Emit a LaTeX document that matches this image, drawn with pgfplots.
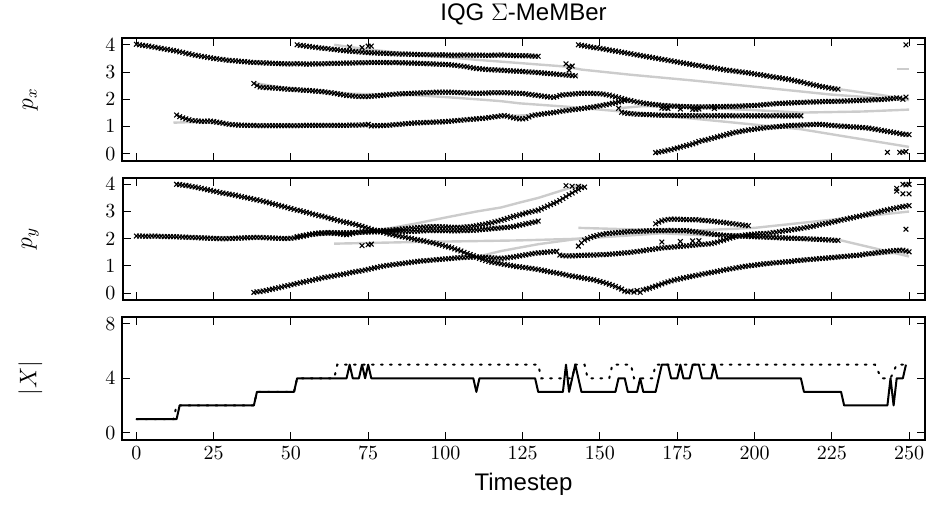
\documentclass[border=0pt]{standalone}
\usepackage{pgfplots}
\pgfplotsset{compat=1.18}
\usepackage{fontspec}
\newfontfamily\hel{Liberation Sans}
\definecolor{gt}{gray}{0.80}
\pgfplotsset{
  panel/.style={
    scale only axis, width=401pt, height=61.25pt,
    xmin=-4.5, xmax=255,
    xtick={0,25,...,250},
    tick align=inside, xtick pos=both, ytick pos=both,
    major tick length=4pt,
    every tick/.style={black, line width=0.5pt},
    axis line style={line width=1pt},
    tick label style={font=\fontsize{10}{12}\selectfont},
    ylabel style={font=\fontsize{11.5}{13}\selectfont, at={(axis description cs:-0.115,0.5)}, anchor=center},
  },
  est/.style={only marks, mark=x, mark size=1.65pt, black, line width=0.55pt},
  tru/.style={gt, line width=1.2pt, no marks},
}
\begin{document}
\begin{tikzpicture}
\path[use as bounding box] (-61.25pt,19pt) rectangle (403.75pt,-236.5pt);
% ---------------- p_x ----------------
\begin{axis}[panel, at={(0,0)}, anchor=north west,
  ymin=-0.25, ymax=4.25, ytick={0,1,2,3,4}, xticklabels={},
  ylabel={$p_x$},
  title={\hel\fontsize{12}{14}\selectfont IQG $\Sigma$-MeMBer},
  title style={yshift=-3pt}]
% ground truth
\addplot[tru] coordinates {(0,4.0)(10,3.83)(20,3.6)(30,3.43)(40,3.34)(60,3.3)(80,3.34)(100,3.28)(110,3.15)(120,3.06)(130,2.98)(143,2.86)};
\addplot[tru] coordinates {(52,4.0)(60,3.88)(70,3.76)(80,3.69)(100,3.63)(130,3.58)};
\addplot[tru] coordinates {(64,4.0)(75,3.83)(90,3.65)(100,3.55)(110,3.45)(124,3.33)(139,3.2)(144,3.09)(160,2.9)(180,2.69)(200,2.46)(225,2.17)(250,1.97)};
\addplot[tru] coordinates {(143,4.0)(160,3.67)(180,3.27)(200,2.93)(215,2.64)(228,2.36)(240,2.17)(250,2.0)};
\addplot[tru] coordinates {(38,2.6)(50,2.38)(60,2.3)(70,2.2)(80,2.18)(90,2.15)(100,2.08)(110,2.0)(118,1.93)(124,1.85)(140,1.72)(155,1.57)(170,1.4)(190,1.18)(215,0.9)(230,0.62)(250,0.25)};
\addplot[tru] coordinates {(12,1.14)(20,1.17)(30,1.08)(40,1.03)(80,1.04)(100,1.18)(118,1.38)(128,1.42)(140,1.6)(158,1.95)(170,1.8)(190,1.73)(210,1.85)(250,2.02)};
\addplot[tru] coordinates {(156,1.67)(164,1.75)(180,1.7)(200,1.6)(215,1.51)(235,1.55)(250,1.62)};
\addplot[tru] coordinates {(168,0.02)(180,0.36)(200,0.9)(220,1.08)(235,0.95)(250,0.7)};
\addplot[tru] coordinates {(246,3.12)(250,3.12)};
% estimates
\addplot[est] coordinates {(0,4.02)(1,4.00)(2,3.98)(3,3.97)(4,3.95)(5,3.93)(6,3.91)(7,3.89)(8,3.87)(9,3.85)(10,3.83)(11,3.81)(12,3.79)(13,3.77)(14,3.74)(15,3.72)(16,3.69)(17,3.67)(18,3.64)(19,3.62)(20,3.60)(21,3.58)(22,3.56)(23,3.54)(24,3.52)(25,3.50)(26,3.49)(27,3.47)(28,3.46)(29,3.44)(30,3.43)(31,3.42)(32,3.41)(33,3.40)(34,3.39)(35,3.38)(36,3.37)(37,3.36)(38,3.35)(39,3.35)(40,3.34)(41,3.34)(42,3.33)(43,3.33)(44,3.32)(45,3.32)(46,3.31)(47,3.31)(48,3.30)(49,3.30)(50,3.30)(51,3.30)(52,3.31)(53,3.30)(54,3.30)(55,3.29)(56,3.29)(57,3.30)(58,3.30)(59,3.30)(60,3.30)(61,3.31)(62,3.31)(63,3.32)(64,3.32)(65,3.32)(66,3.32)(67,3.33)(68,3.33)(69,3.33)(70,3.33)(71,3.34)(72,3.34)(73,3.34)(74,3.34)(75,3.35)(76,3.35)(77,3.35)(78,3.35)(79,3.35)(80,3.35)(81,3.35)(82,3.34)(83,3.35)(84,3.35)(85,3.34)(86,3.34)(87,3.34)(88,3.33)(89,3.33)(90,3.33)(91,3.32)(92,3.32)(93,3.31)(94,3.31)(95,3.30)(96,3.30)(97,3.29)(98,3.29)(99,3.28)(100,3.28)(101,3.27)(102,3.26)(103,3.25)(104,3.24)(105,3.22)(106,3.21)(107,3.19)(108,3.17)(109,3.15)(110,3.13)(111,3.12)(112,3.11)(113,3.10)(114,3.09)(115,3.08)(116,3.08)(117,3.07)(118,3.07)(119,3.06)(120,3.05)(121,3.04)(122,3.04)(123,3.03)(124,3.03)(125,3.02)(126,3.01)(127,3.00)(128,3.00)(129,2.99)(130,2.98)(131,2.97)(132,2.96)(133,2.95)(134,2.94)(135,2.93)(136,2.92)(137,2.91)(138,2.90)(139,2.89)(140,2.88)(141,2.87)(142,2.86)};
\addplot[est] coordinates {(52,4.00)(53,3.98)(54,3.97)(55,3.95)(56,3.94)(57,3.92)(58,3.91)(59,3.89)(60,3.88)(61,3.87)(62,3.86)(63,3.84)(64,3.83)(65,3.82)(66,3.80)(67,3.79)(68,3.78)(69,3.77)(70,3.76)(71,3.75)(72,3.74)(73,3.73)(74,3.72)(75,3.71)(76,3.71)(77,3.70)(78,3.70)(79,3.69)(80,3.69)(81,3.68)(82,3.68)(83,3.67)(84,3.67)(85,3.66)(86,3.66)(87,3.66)(88,3.66)(89,3.65)(90,3.65)(91,3.64)(92,3.64)(93,3.64)(94,3.64)(95,3.63)(96,3.63)(97,3.63)(98,3.63)(99,3.63)(100,3.63)(101,3.62)(102,3.62)(103,3.62)(104,3.62)(105,3.62)(106,3.63)(107,3.62)(108,3.62)(109,3.62)(110,3.62)(111,3.62)(112,3.62)(113,3.61)(114,3.61)(115,3.62)(116,3.62)(117,3.62)(118,3.63)(119,3.62)(120,3.62)(121,3.61)(122,3.61)(123,3.60)(124,3.60)(125,3.60)(126,3.60)(127,3.59)(128,3.59)(129,3.58)(130,3.58)};
\addplot[est] coordinates {(143,4.00)(144,3.98)(145,3.96)(146,3.94)(147,3.92)(148,3.90)(149,3.89)(150,3.87)(151,3.85)(152,3.83)(153,3.81)(154,3.79)(155,3.77)(156,3.75)(157,3.73)(158,3.71)(159,3.69)(160,3.67)(161,3.65)(162,3.63)(163,3.61)(164,3.59)(165,3.57)(166,3.55)(167,3.53)(168,3.51)(169,3.49)(170,3.47)(171,3.45)(172,3.43)(173,3.41)(174,3.39)(175,3.37)(176,3.35)(177,3.33)(178,3.31)(179,3.29)(180,3.27)(181,3.25)(182,3.24)(183,3.22)(184,3.20)(185,3.18)(186,3.17)(187,3.15)(188,3.13)(189,3.11)(190,3.09)(191,3.07)(192,3.06)(193,3.04)(194,3.03)(195,3.01)(196,3.00)(197,2.98)(198,2.97)(199,2.95)(200,2.93)(201,2.91)(202,2.90)(203,2.88)(204,2.86)(205,2.84)(206,2.82)(207,2.80)(208,2.79)(209,2.77)(210,2.75)(211,2.73)(212,2.71)(213,2.68)(214,2.66)(215,2.64)(216,2.61)(217,2.58)(218,2.56)(219,2.53)(220,2.51)(221,2.48)(222,2.46)(223,2.44)(224,2.42)(225,2.40)(226,2.38)(227,2.37)};
\addplot[est] coordinates {(38,2.58)(39,2.50)(40,2.45)(41,2.44)(42,2.43)(43,2.42)(44,2.42)(45,2.41)(46,2.40)(47,2.39)(48,2.38)(49,2.37)(50,2.36)(51,2.36)(52,2.35)(53,2.34)(54,2.33)(55,2.33)(56,2.32)(57,2.31)(58,2.30)(59,2.29)(60,2.28)(61,2.27)(62,2.25)(63,2.24)(64,2.22)(65,2.20)(66,2.18)(67,2.16)(68,2.14)(69,2.13)(70,2.12)(71,2.11)(72,2.10)(73,2.10)(74,2.10)(75,2.10)(76,2.11)(77,2.12)(78,2.13)(79,2.14)(80,2.15)(81,2.16)(82,2.17)(83,2.18)(84,2.19)(85,2.20)(86,2.20)(87,2.21)(88,2.21)(89,2.22)(90,2.22)(91,2.23)(92,2.23)(93,2.24)(94,2.24)(95,2.25)(96,2.25)(97,2.26)(98,2.26)(99,2.26)(100,2.26)(101,2.26)(102,2.26)(103,2.25)(104,2.25)(105,2.24)(106,2.24)(107,2.23)(108,2.23)(109,2.22)(110,2.22)(111,2.22)(112,2.22)(113,2.23)(114,2.23)(115,2.24)(116,2.24)(117,2.24)(118,2.24)(119,2.24)(120,2.24)(121,2.23)(122,2.23)(123,2.22)(124,2.22)(125,2.21)(126,2.20)(127,2.18)(128,2.17)(129,2.15)(130,2.14)(131,2.12)(132,2.11)(133,2.09)(134,2.08)(135,2.07)(136,2.10)(137,2.14)(138,2.16)(139,2.17)(140,2.18)(141,2.19)(142,2.20)(143,2.21)(144,2.22)(145,2.22)(146,2.22)(147,2.22)(148,2.21)(149,2.21)(150,2.20)(151,2.19)(152,2.17)(153,2.15)(154,2.12)(155,2.09)(156,2.06)(157,2.03)(158,2.00)(159,1.97)(160,1.95)(161,1.92)(162,1.90)(163,1.88)(164,1.86)(165,1.84)(166,1.83)(167,1.81)(168,1.80)(169,1.79)(170,1.78)(171,1.77)(172,1.76)(173,1.75)(174,1.75)(175,1.74)(176,1.74)(177,1.73)(178,1.73)(179,1.72)(180,1.72)(181,1.72)(182,1.72)(183,1.72)(184,1.72)(185,1.72)(186,1.73)(187,1.73)(188,1.73)(189,1.73)(190,1.73)(191,1.74)(192,1.74)(193,1.74)(194,1.74)(195,1.75)(196,1.75)(197,1.76)(198,1.76)(199,1.77)(200,1.77)(201,1.78)(202,1.79)(203,1.80)(204,1.81)(205,1.82)(206,1.83)(207,1.84)(208,1.85)(209,1.85)(210,1.86)(211,1.86)(212,1.87)(213,1.87)(214,1.88)(215,1.88)(216,1.89)(217,1.89)(218,1.90)(219,1.90)(220,1.90)(221,1.91)(222,1.91)(223,1.92)(224,1.92)(225,1.92)(226,1.92)(227,1.93)(228,1.93)(229,1.93)(230,1.94)(231,1.94)(232,1.95)(233,1.95)(234,1.96)(235,1.96)(236,1.97)(237,1.97)(238,1.98)(239,1.98)(240,1.99)(241,1.99)(242,2.00)(243,2.01)(244,2.02)(245,2.03)(246,2.05)(247,2.04)(248,2.00)(249,2.08)};
\addplot[est] coordinates {(13,1.42)(14,1.36)(15,1.32)(16,1.28)(17,1.25)(18,1.22)(19,1.21)(20,1.20)(21,1.19)(22,1.19)(23,1.20)(24,1.20)(25,1.18)(26,1.16)(27,1.14)(28,1.12)(29,1.10)(30,1.08)(31,1.07)(32,1.06)(33,1.05)(34,1.05)(35,1.04)(36,1.04)(37,1.04)(38,1.04)(39,1.03)(40,1.03)(41,1.03)(42,1.03)(43,1.03)(44,1.03)(45,1.03)(46,1.03)(47,1.03)(48,1.03)(49,1.03)(50,1.03)(51,1.03)(52,1.03)(53,1.03)(54,1.04)(55,1.04)(56,1.04)(57,1.04)(58,1.04)(59,1.04)(60,1.04)(61,1.04)(62,1.04)(63,1.04)(64,1.04)(65,1.04)(66,1.04)(67,1.04)(68,1.04)(69,1.05)(70,1.05)(71,1.05)(72,1.05)(73,1.06)(74,1.06)(75,1.08)(76,1.02)(77,1.03)(78,1.03)(79,1.03)(80,1.04)(81,1.04)(82,1.05)(83,1.06)(84,1.07)(85,1.08)(86,1.09)(87,1.10)(88,1.11)(89,1.12)(90,1.13)(91,1.13)(92,1.14)(93,1.14)(94,1.15)(95,1.15)(96,1.16)(97,1.16)(98,1.17)(99,1.17)(100,1.18)(101,1.19)(102,1.20)(103,1.21)(104,1.22)(105,1.23)(106,1.24)(107,1.25)(108,1.26)(109,1.27)(110,1.28)(111,1.29)(112,1.30)(113,1.31)(114,1.33)(115,1.34)(116,1.36)(117,1.37)(118,1.39)(119,1.40)(120,1.38)(121,1.35)(122,1.32)(123,1.30)(124,1.28)(125,1.28)(126,1.30)(127,1.35)(128,1.40)(129,1.42)(130,1.44)(131,1.45)(132,1.47)(133,1.48)(134,1.50)(135,1.51)(136,1.53)(137,1.55)(138,1.57)(139,1.58)(140,1.60)(141,1.61)(142,1.63)(143,1.64)(144,1.66)(145,1.67)(146,1.69)(147,1.70)(148,1.72)(149,1.74)(150,1.76)(151,1.78)(152,1.80)(153,1.82)(154,1.85)(155,1.87)(156,1.90)(157,1.92)(158,1.95)(170,1.68)(171,1.67)(172,1.66)(176,1.64)(180,1.63)(181,1.63)(182,1.64)(187,1.66)};
\addplot[est] coordinates {(156,1.67)(157,1.52)(158,1.50)(159,1.48)(160,1.47)(161,1.46)(162,1.45)(163,1.45)(164,1.44)(165,1.44)(166,1.43)(167,1.43)(168,1.42)(169,1.42)(170,1.41)(171,1.41)(172,1.41)(173,1.41)(174,1.40)(175,1.40)(176,1.40)(177,1.40)(178,1.40)(179,1.40)(180,1.39)(181,1.40)(182,1.39)(183,1.39)(184,1.40)(185,1.39)(186,1.39)(187,1.39)(188,1.40)(189,1.39)(190,1.39)(191,1.39)(192,1.40)(193,1.39)(194,1.39)(195,1.39)(196,1.39)(197,1.40)(198,1.39)(199,1.39)(200,1.39)(201,1.39)(202,1.40)(203,1.39)(204,1.39)(205,1.39)(206,1.39)(207,1.40)(208,1.39)(209,1.39)(210,1.39)(211,1.39)(212,1.39)(213,1.40)(214,1.39)(215,1.39)};
\addplot[est] coordinates {(168,0.04)(169,0.06)(170,0.08)(171,0.10)(172,0.13)(173,0.15)(174,0.18)(175,0.21)(176,0.24)(177,0.27)(178,0.30)(179,0.33)(180,0.36)(181,0.40)(182,0.45)(183,0.48)(184,0.50)(185,0.53)(186,0.56)(187,0.59)(188,0.62)(189,0.65)(190,0.68)(191,0.71)(192,0.74)(193,0.77)(194,0.79)(195,0.81)(196,0.83)(197,0.85)(198,0.87)(199,0.89)(200,0.90)(201,0.92)(202,0.93)(203,0.95)(204,0.96)(205,0.97)(206,0.98)(207,0.99)(208,1.00)(209,1.01)(210,1.02)(211,1.03)(212,1.04)(213,1.04)(214,1.05)(215,1.05)(216,1.06)(217,1.06)(218,1.07)(219,1.07)(220,1.08)(221,1.08)(222,1.07)(223,1.06)(224,1.05)(225,1.04)(226,1.03)(227,1.02)(228,1.01)(229,1.01)(230,1.00)(231,0.99)(232,0.98)(233,0.98)(234,0.97)(235,0.96)(236,0.95)(237,0.94)(238,0.92)(239,0.90)(240,0.88)(241,0.86)(242,0.84)(243,0.82)(244,0.80)(245,0.78)(246,0.76)(247,0.74)(248,0.72)(249,0.71)(250,0.70)};
\addplot[est] coordinates {(69,3.92)(73,3.9)(75,3.95)(76,3.95)(139,3.3)(140,3.2)(141,3.22)(140,3.07)(249,4.0)(243,0.05)(247,0.05)(248,0.06)(249,0.08)};
\end{axis}
% ---------------- p_y ----------------
\begin{axis}[panel, at={(0,-69.75pt)}, anchor=north west,
  ymin=-0.25, ymax=4.25, ytick={0,1,2,3,4}, xticklabels={},
  ylabel={$p_y$}]
\addplot[tru] coordinates {(0,2.1)(50,2.03)(60,2.15)(70,2.2)(80,2.35)(90,2.55)(100,2.78)(110,3.0)(118,3.15)(124,3.33)(130,3.5)(137,3.75)(144,4.0)};
\addplot[tru] coordinates {(52,2.08)(60,2.2)(80,2.27)(100,2.3)(120,2.42)(130,2.6)};
\addplot[tru] coordinates {(13,4.0)(40,3.4)(60,2.85)(80,2.23)(100,1.73)(110,1.33)(120,1.04)(140,0.65)(150,0.43)(158,0.08)(162,0.1)(170,0.35)(190,0.85)(215,1.2)(250,1.52)};
\addplot[tru] coordinates {(38,0.0)(60,0.56)(80,1.0)(100,1.26)(110,1.33)(118,1.55)(130,1.8)(143,2.0)(160,2.2)(180,2.3)(200,2.4)(225,2.7)(250,3.0)};
\addplot[tru] coordinates {(64,1.82)(90,1.88)(124,1.94)(143,2.0)(170,2.2)(190,2.1)(220,1.95)};
\addplot[tru] coordinates {(143,2.4)(168,2.32)(190,2.15)(228,1.94)(250,1.35)};
% estimates
\addplot[est] coordinates {(0,2.10)(1,2.10)(2,2.10)(3,2.09)(4,2.09)(5,2.10)(6,2.10)(7,2.09)(8,2.09)(9,2.08)(10,2.08)(11,2.08)(12,2.08)(13,2.07)(14,2.07)(15,2.06)(16,2.06)(17,2.05)(18,2.05)(19,2.04)(20,2.04)(21,2.03)(22,2.03)(23,2.02)(24,2.02)(25,2.01)(26,2.01)(27,2.00)(28,2.00)(29,2.00)(30,2.01)(31,2.01)(32,2.02)(33,2.02)(34,2.03)(35,2.03)(36,2.04)(37,2.04)(38,2.05)(39,2.05)(40,2.05)(41,2.04)(42,2.04)(43,2.03)(44,2.03)(45,2.02)(46,2.02)(47,2.01)(48,2.01)(49,2.01)(50,2.02)(51,2.03)(52,2.05)(53,2.07)(54,2.10)(55,2.12)(56,2.15)(57,2.17)(58,2.18)(59,2.19)(60,2.20)(61,2.21)(62,2.21)(63,2.21)(64,2.20)(65,2.19)(66,2.18)(67,2.16)(68,2.15)(69,2.17)(70,2.20)(71,2.22)(72,2.24)(73,2.26)(74,2.27)(75,2.27)(76,2.28)(77,2.29)(78,2.30)(79,2.30)(80,2.31)(81,2.31)(82,2.32)(83,2.33)(84,2.34)(85,2.35)(86,2.36)(87,2.37)(88,2.38)(89,2.39)(90,2.40)(91,2.41)(92,2.42)(93,2.43)(94,2.44)(95,2.44)(96,2.45)(97,2.45)(98,2.44)(99,2.44)(100,2.43)(101,2.43)(102,2.42)(103,2.42)(104,2.42)(105,2.42)(106,2.43)(107,2.44)(108,2.45)(109,2.46)(110,2.48)(111,2.50)(112,2.52)(113,2.54)(114,2.57)(115,2.59)(116,2.62)(117,2.65)(118,2.68)(119,2.71)(120,2.75)(121,2.78)(122,2.82)(123,2.85)(124,2.88)(125,2.91)(126,2.95)(127,2.97)(128,3.00)(129,3.02)(130,3.05)(131,3.10)(132,3.15)(133,3.20)(134,3.25)(135,3.30)(136,3.35)(137,3.41)(138,3.48)(139,3.55)(140,3.62)(141,3.68)(142,3.75)(143,3.81)(144,3.88)};
\addplot[est] coordinates {(52,2.08)(53,2.10)(54,2.12)(55,2.14)(56,2.16)(57,2.18)(58,2.20)(59,2.21)(60,2.22)(61,2.22)(62,2.23)(63,2.23)(64,2.22)(65,2.22)(66,2.22)(67,2.22)(68,2.22)(69,2.22)(70,2.23)(71,2.23)(72,2.24)(73,2.24)(74,2.24)(75,2.25)(76,2.25)(77,2.25)(78,2.26)(79,2.26)(80,2.27)(81,2.27)(82,2.27)(83,2.27)(84,2.27)(85,2.27)(86,2.27)(87,2.27)(88,2.27)(89,2.27)(90,2.28)(91,2.28)(92,2.29)(93,2.29)(94,2.30)(95,2.30)(96,2.30)(97,2.30)(98,2.30)(99,2.30)(100,2.30)(101,2.30)(102,2.29)(103,2.29)(104,2.29)(105,2.30)(106,2.30)(107,2.30)(108,2.31)(109,2.31)(110,2.32)(111,2.33)(112,2.34)(113,2.35)(114,2.36)(115,2.37)(116,2.38)(117,2.39)(118,2.40)(119,2.41)(120,2.42)(121,2.43)(122,2.45)(123,2.47)(124,2.50)(125,2.52)(126,2.55)(127,2.57)(128,2.60)(129,2.62)(130,2.65)};
\addplot[est] coordinates {(13,4.00)(14,3.99)(15,3.97)(16,3.96)(17,3.94)(18,3.92)(19,3.90)(20,3.88)(21,3.85)(22,3.83)(23,3.80)(24,3.78)(25,3.75)(26,3.73)(27,3.70)(28,3.68)(29,3.66)(30,3.64)(31,3.62)(32,3.60)(33,3.57)(34,3.55)(35,3.52)(36,3.50)(37,3.48)(38,3.45)(39,3.43)(40,3.40)(41,3.38)(42,3.35)(43,3.32)(44,3.29)(45,3.26)(46,3.23)(47,3.20)(48,3.17)(49,3.14)(50,3.11)(51,3.08)(52,3.05)(53,3.03)(54,3.00)(55,2.97)(56,2.94)(57,2.91)(58,2.88)(59,2.85)(60,2.83)(61,2.80)(62,2.77)(63,2.74)(64,2.71)(65,2.68)(66,2.65)(67,2.62)(68,2.60)(69,2.57)(70,2.55)(71,2.52)(72,2.49)(73,2.46)(74,2.42)(75,2.39)(76,2.35)(77,2.32)(78,2.29)(79,2.26)(80,2.23)(81,2.20)(82,2.17)(83,2.15)(84,2.12)(85,2.10)(86,2.08)(87,2.06)(88,2.03)(89,2.01)(90,1.98)(91,1.96)(92,1.94)(93,1.92)(94,1.89)(95,1.87)(96,1.85)(97,1.82)(98,1.79)(99,1.76)(100,1.73)(101,1.70)(102,1.67)(103,1.63)(104,1.59)(105,1.55)(106,1.50)(107,1.46)(108,1.42)(109,1.38)(110,1.33)(111,1.28)(112,1.24)(113,1.20)(114,1.17)(115,1.14)(116,1.12)(117,1.10)(118,1.08)(119,1.06)(120,1.04)(121,1.02)(122,1.00)(123,0.98)(124,0.97)(125,0.95)(126,0.94)(127,0.92)(128,0.91)(129,0.89)(130,0.87)(131,0.85)(132,0.83)(133,0.80)(134,0.78)(135,0.76)(136,0.74)(137,0.72)(138,0.70)(139,0.67)(140,0.65)(141,0.63)(142,0.61)(143,0.59)(144,0.57)(145,0.55)(146,0.53)(147,0.51)(148,0.49)(149,0.46)(150,0.43)(151,0.40)(152,0.37)(153,0.33)(154,0.29)(155,0.25)(156,0.20)(157,0.15)(158,0.08)(159,0.05)(160,0.08)(161,0.04)(162,0.10)(163,0.03)(164,0.12)(165,0.15)(166,0.18)(167,0.22)(168,0.26)(169,0.30)(170,0.34)(171,0.38)(172,0.42)(173,0.45)(174,0.48)(175,0.51)(176,0.53)(177,0.56)(178,0.58)(179,0.61)(180,0.63)(181,0.65)(182,0.67)(183,0.70)(184,0.72)(185,0.74)(186,0.76)(187,0.78)(188,0.80)(189,0.83)(190,0.85)(191,0.87)(192,0.89)(193,0.91)(194,0.93)(195,0.95)(196,0.97)(197,0.99)(198,1.00)(199,1.02)(200,1.03)(201,1.05)(202,1.06)(203,1.08)(204,1.09)(205,1.10)(206,1.11)(207,1.12)(208,1.13)(209,1.14)(210,1.15)(211,1.16)(212,1.17)(213,1.19)(214,1.20)(215,1.21)(216,1.22)(217,1.23)(218,1.24)(219,1.25)(220,1.26)(221,1.27)(222,1.28)(223,1.29)(224,1.30)(225,1.31)(226,1.32)(227,1.33)(228,1.34)(229,1.35)(230,1.36)(231,1.37)(232,1.38)(233,1.39)(234,1.40)(235,1.42)(236,1.44)(237,1.45)(238,1.46)(239,1.48)(240,1.49)(241,1.51)(242,1.52)(243,1.54)(244,1.55)(245,1.56)(246,1.57)(247,1.58)(248,1.58)(249,1.55)(250,1.52)};
\addplot[est] coordinates {(38,0.03)(39,0.05)(40,0.06)(41,0.08)(42,0.10)(43,0.13)(44,0.15)(45,0.18)(46,0.20)(47,0.23)(48,0.26)(49,0.28)(50,0.31)(51,0.33)(52,0.36)(53,0.38)(54,0.41)(55,0.43)(56,0.46)(57,0.48)(58,0.51)(59,0.53)(60,0.56)(61,0.58)(62,0.60)(63,0.62)(64,0.64)(65,0.66)(66,0.68)(67,0.70)(68,0.72)(69,0.75)(70,0.77)(71,0.79)(72,0.81)(73,0.83)(74,0.85)(75,0.88)(76,0.90)(77,0.93)(78,0.95)(79,0.98)(80,1.00)(81,1.02)(82,1.03)(83,1.05)(84,1.06)(85,1.08)(86,1.09)(87,1.11)(88,1.12)(89,1.14)(90,1.15)(91,1.17)(92,1.18)(93,1.19)(94,1.20)(95,1.21)(96,1.22)(97,1.23)(98,1.24)(99,1.25)(100,1.26)(101,1.27)(102,1.28)(103,1.29)(104,1.30)(105,1.31)(106,1.31)(107,1.32)(108,1.32)(109,1.33)(110,1.33)(111,1.33)(112,1.32)(113,1.32)(114,1.31)(115,1.30)(116,1.29)(117,1.29)(118,1.28)(119,1.29)(120,1.30)(121,1.32)(122,1.33)(123,1.35)(124,1.37)(125,1.39)(126,1.41)(127,1.43)(128,1.45)(129,1.47)(130,1.48)(131,1.49)(132,1.50)(133,1.51)(134,1.52)(135,1.53)(136,1.54)(137,1.40)(138,1.38)(139,1.37)(140,1.37)(141,1.37)(142,1.38)(143,1.38)(144,1.39)(145,1.39)(146,1.40)(147,1.40)(148,1.40)(149,1.41)(150,1.41)(151,1.42)(152,1.42)(153,1.43)(154,1.44)(155,1.45)(156,1.46)(157,1.47)(158,1.48)(159,1.49)(160,1.50)(161,1.52)(162,1.53)(163,1.55)(164,1.56)(165,1.58)(166,1.60)(167,1.61)(168,1.63)(169,1.65)(170,1.66)(171,1.67)(172,1.68)(173,1.69)(174,1.70)(175,1.71)(176,1.72)(177,1.73)(178,1.74)(179,1.75)(180,1.76)(181,1.77)(182,1.78)(183,1.79)(184,1.80)(185,1.81)(186,1.82)(187,1.85)(188,1.88)(189,1.92)(190,1.95)(191,1.99)(192,2.02)(193,2.05)(194,2.08)(195,2.10)(196,2.12)(197,2.14)(198,2.15)(199,2.16)(200,2.17)(201,2.18)(202,2.19)(203,2.19)(204,2.20)(205,2.21)(206,2.23)(207,2.24)(208,2.26)(209,2.28)(210,2.30)(211,2.31)(212,2.33)(213,2.35)(214,2.36)(215,2.38)(216,2.40)(217,2.42)(218,2.44)(219,2.46)(220,2.49)(221,2.51)(222,2.54)(223,2.56)(224,2.58)(225,2.61)(226,2.63)(227,2.66)(228,2.68)(229,2.71)(230,2.73)(231,2.76)(232,2.78)(233,2.81)(234,2.83)(235,2.86)(236,2.88)(237,2.91)(238,2.93)(239,2.96)(240,2.98)(241,3.01)(242,3.04)(243,3.06)(244,3.09)(245,3.11)(246,3.14)(247,3.16)(248,3.18)(249,3.20)(250,3.22)};
\addplot[est] coordinates {(143,1.73)(144,1.85)(145,1.95)(146,2.00)(147,2.05)(148,2.09)(149,2.12)(150,2.15)(151,2.17)(152,2.19)(153,2.20)(154,2.21)(155,2.22)(156,2.23)(157,2.24)(158,2.25)(159,2.26)(160,2.26)(161,2.27)(162,2.27)(163,2.28)(164,2.28)(165,2.29)(166,2.29)(167,2.30)(168,2.30)(169,2.30)(170,2.30)(171,2.30)(172,2.30)(173,2.31)(174,2.30)(175,2.30)(176,2.30)(177,2.30)(178,2.30)(179,2.28)(180,2.27)(181,2.25)(182,2.24)(183,2.22)(184,2.21)(185,2.19)(186,2.18)(187,2.16)(188,2.15)(189,2.14)(190,2.13)(191,2.12)(192,2.12)(193,2.11)(194,2.11)(195,2.10)(196,2.10)(197,2.09)(198,2.09)(199,2.08)(200,2.08)(201,2.07)(202,2.07)(203,2.06)(204,2.06)(205,2.05)(206,2.05)(207,2.04)(208,2.04)(209,2.03)(210,2.03)(211,2.02)(212,2.02)(213,2.02)(214,2.01)(215,2.01)(216,2.00)(217,2.00)(218,1.99)(219,1.99)(220,1.98)(221,1.98)(222,1.97)(223,1.96)(224,1.96)(225,1.95)(226,1.94)(227,1.94)};
\addplot[est] coordinates {(168,2.55)(169,2.61)(170,2.66)(171,2.69)(172,2.71)(173,2.72)(174,2.72)(175,2.72)(176,2.71)(177,2.71)(178,2.70)(179,2.70)(180,2.70)(181,2.70)(182,2.69)(183,2.68)(184,2.67)(185,2.66)(186,2.65)(187,2.64)(188,2.62)(189,2.61)(190,2.60)(191,2.58)(192,2.57)(193,2.55)(194,2.54)(195,2.52)(196,2.51)(197,2.49)(198,2.48)};
\addplot[est] coordinates {(73,1.75)(75,1.78)(76,1.8)(139,3.95)(141,3.93)(143,3.92)(145,3.9)(246,3.75)(246,3.85)(248,4.0)(249,3.98)(250,4.0)(248,3.65)(250,3.65)(249,2.35)(170,1.88)(176,1.9)(180,1.92)(182,1.93)};
\end{axis}
% ---------------- |X| ----------------
\begin{axis}[panel, at={(0,-139.5pt)}, anchor=north west,
  ymin=-0.5, ymax=8.5, ytick={0,4,8},
  ylabel={$|X|$},
  xlabel={\hel\fontsize{12}{14}\selectfont Timestep}]
\addplot[black, line width=1pt, dash pattern=on 0.9pt off 3.6pt, line cap=round] coordinates {(0,1)(12,1)(13,2)(38,2)(39,3)(51,3)(52,4)(64,4)(65,5)(130,5)(131,4)(141,4)(142,5)(145,5)(146,4)(153,4)(154,5)(160,5)(161,4)(167,4)(168,5)(239,5)(241,4)(244,4)(246,5)(249,5)};
\addplot[black, line width=1pt, line join=round] coordinates {(0,1)(13,1)(14,2)(38,2)(39,3)(51,3)(52,4)(68,4)(69,5)(70,4)(72,4)(73,5)(74,4)(75,5)(76,4)(109,4)(110,3)(111,4)(129,4)(130,3)(138,3)(139,5)(140,3)(141,4)(142,5)(143,4)(144,3)(155,3)(156,4)(158,4)(159,3)(162,3)(163,4)(164,3)(168,3)(170,5)(172,5)(173,4)(175,4)(176,5)(177,4)(179,4)(180,5)(182,5)(183,4)(186,4)(187,5)(188,4)(215,4)(216,3)(228,3)(229,2)(243,2)(244,4)(245,2)(246,4)(248,4)(249,5)};
\end{axis}
\end{tikzpicture}
\end{document}
